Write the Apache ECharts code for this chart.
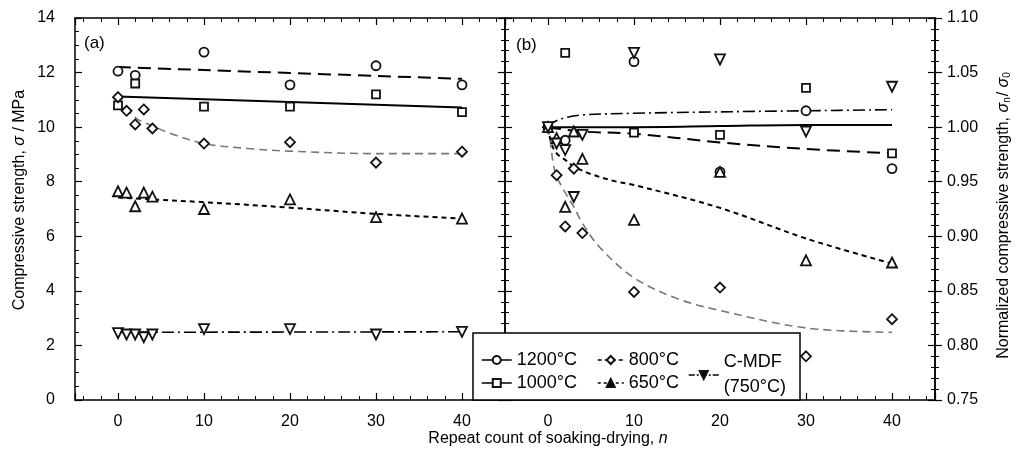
<!DOCTYPE html>
<html>
<head>
<meta charset="utf-8">
<script src="https://cdn.jsdelivr.net/npm/echarts@6/dist/echarts.min.js"></script>
<style>
html, body { margin: 0; padding: 0; background: #fff; }
#chart { width: 1019px; height: 462px; }
</style>
</head>
<body>
<div id="chart"></div>
<script>
// tick labels
var xTicks = [0, 10, 20, 30, 40];

// panel (a): compressive strength, MPa  [n, value]
var a1200 = [[0, 12.05], [2, 11.9], [10, 12.75], [20, 11.55], [30, 12.25], [40, 11.55]];
var a1000 = [[0, 10.8], [2, 11.6], [10, 10.75], [20, 10.75], [30, 11.2], [40, 10.55]];
var a800 = [[0, 11.1], [1, 10.6], [2, 10.1], [3, 10.65], [4, 9.95], [10, 9.4], [20, 9.45], [30, 8.7], [40, 9.1]];
var a650 = [[0, 7.65], [1, 7.6], [2, 7.1], [3, 7.6], [4, 7.45], [10, 7.0], [20, 7.35], [30, 6.7], [40, 6.65]];
var aMdf = [[0, 2.45], [1, 2.4], [2, 2.4], [3, 2.3], [4, 2.4], [10, 2.6], [20, 2.6], [30, 2.4], [40, 2.5]];

// panel (a): fitted curves
var fitA1200 = [[0, 12.2], [40, 11.77]];
var fitA1000 = [[0, 11.12], [40, 10.72]];
var fitA800 = [[0, 11.1], [2, 10.35], [4, 10.05], [6, 9.78], [10, 9.4], [15, 9.22], [20, 9.12], [30, 9.03], [40, 9.03]];
var fitA650 = [[0, 7.42], [4, 7.35], [10, 7.25], [20, 7.05], [30, 6.82], [40, 6.65]];
var fitAMdf = [[0, 2.48], [40, 2.5]];

// panel (b): normalized strength
var b1200 = [[0, 1.0], [2, 0.988], [10, 1.06], [20, 0.959], [30, 1.015], [40, 0.962]];
var b1000 = [[0, 1.0], [2, 1.068], [10, 0.995], [20, 0.993], [30, 1.036], [40, 0.976]];
var b800 = [[0, 1.0], [1, 0.956], [2, 0.909], [3, 0.962], [4, 0.903], [10, 0.849], [20, 0.853], [30, 0.79], [40, 0.824]];
var b650 = [[0, 1.0], [1, 0.99], [2, 0.927], [3, 0.996], [4, 0.971], [10, 0.915], [20, 0.959], [30, 0.878], [40, 0.876]];
var bMdf = [[0, 1.0], [1, 0.985], [2, 0.979], [3, 0.936], [4, 0.993], [10, 1.068], [20, 1.062], [30, 0.996], [40, 1.037]];

// panel (b): fitted curves
var fitBDashDot = [[0, 1.0], [0.5, 1.004], [1.7, 1.008], [3.7, 1.011], [10, 1.0127], [20, 1.014], [30, 1.015], [40, 1.016]];
var fitBSolid = [[0, 1.0], [10, 1.0], [20, 1.001], [30, 1.002], [40, 1.002]];
var fitBLong = [[0, 1.0], [4, 0.996], [10, 0.994], [20, 0.986], [30, 0.98], [40, 0.976]];
var fitB650 = [[0, 1.0], [0.4, 0.985], [1, 0.976], [2, 0.97], [3, 0.964], [5, 0.957], [8, 0.95], [10, 0.947], [20, 0.926], [30, 0.898], [40, 0.875]];
var fitB800 = [[0, 1.0], [0.3, 0.985], [0.6, 0.967], [1, 0.955], [2, 0.94], [3, 0.927], [4, 0.912], [6, 0.89], [10, 0.862], [15, 0.843], [20, 0.832], [30, 0.816], [40, 0.812]];

var FONT = '"Liberation Sans", Arial, sans-serif';

function xAx(grid, pos, labels) {
    return {
        gridIndex: grid, type: 'value', position: pos, min: -5, max: 45, splitNumber: 5,
        axisLine: { onZero: false, lineStyle: { color: '#000', width: 1.5 } },
        axisTick: { inside: true, length: 7, lineStyle: { color: '#000', width: 1.2 } },
        minorTick: { show: true, splitNumber: 5, length: 4, lineStyle: { color: '#000', width: 1 } },
        axisLabel: {
            show: labels, color: '#000', fontSize: 16, margin: 14, fontFamily: FONT,
            formatter: function (v) { return xTicks.indexOf(v) >= 0 ? String(v) : ''; }
        },
        splitLine: { show: false }
    };
}

function yAx(grid, pos, min, max, step, minor, labels, inside) {
    return {
        gridIndex: grid, type: 'value', position: pos, min: min, max: max, interval: step,
        axisLine: { show: true, onZero: false, lineStyle: { color: '#000', width: 1.5 } },
        axisTick: { show: true, inside: inside !== false, length: 7, lineStyle: { color: '#000', width: 1.2 } },
        minorTick: { show: true, splitNumber: minor, length: 4, lineStyle: { color: '#000', width: 1 } },
        axisLabel: {
            show: labels, color: '#000', fontSize: 16, fontFamily: FONT, margin: pos === 'left' ? 20 : 12,
            formatter: function (v) { return step < 1 ? v.toFixed(2) : String(Math.round(v)); }
        },
        splitLine: { show: false }
    };
}

function markers(name, data, xi, yi, symbol, size, rot) {
    return {
        name: name, type: 'line', data: data, xAxisIndex: xi, yAxisIndex: yi,
        symbol: symbol, symbolSize: size, symbolRotate: rot || 0, showSymbol: true,
        lineStyle: { opacity: 0 },
        itemStyle: { color: '#fff', borderColor: '#111', borderWidth: 1.8 },
        z: 3, silent: true
    };
}

function fit(data, xi, yi, type, width, color) {
    return {
        name: 'fit', type: 'line', data: data, xAxisIndex: xi, yAxisIndex: yi,
        showSymbol: false, smooth: 0.35,
        lineStyle: { color: color || '#000', width: width, type: type },
        z: 2, silent: true
    };
}

var DASH_LONG = [13, 7];
var DASH_GRAY = [8, 5];
var DASH_SHORT = [5, 4];
var DASH_DOT = [12, 4, 2, 4];

var legendLine = function (type) {
    return { color: '#000', width: 1.5, opacity: 1, type: type };
};

var chart = echarts.init(document.getElementById('chart'));

var option = {
    animation: false,
    backgroundColor: '#fff',
    grid: [
        { left: 75, top: 18, width: 430, height: 382 },
        { left: 505, top: 18, width: 430, height: 382 }
    ],
    xAxis: [
        xAx(0, 'bottom', true),
        xAx(0, 'top', false),
        xAx(1, 'bottom', true),
        xAx(1, 'top', false)
    ],
    yAxis: [
        yAx(0, 'left', 0, 14, 2, 4, true),
        yAx(0, 'right', 0.75, 1.10, 0.05, 5, false),
        yAx(1, 'left', 0.75, 1.10, 0.05, 5, false),
        yAx(1, 'right', 0.75, 1.10, 0.05, 5, true),
        yAx(1, 'right', 0.75, 1.10, 0.05, 5, false, false)
    ],
    legend: [
        {
            left: 476, top: 346, orient: 'vertical', itemGap: 5, itemWidth: 30, itemHeight: 10, z: 100,
            textStyle: { fontSize: 18, color: '#000', fontFamily: FONT },
            data: [
                { name: '1200°C', lineStyle: legendLine('solid') },
                { name: '1000°C', lineStyle: legendLine('solid') }
            ]
        },
        {
            left: 592, top: 346, orient: 'vertical', itemGap: 5, itemWidth: 26, itemHeight: 10, z: 100,
            textStyle: { fontSize: 18, color: '#000', fontFamily: FONT },
            data: [
                { name: '800°C', lineStyle: legendLine([4, 3]) },
                { name: '650°C', lineStyle: legendLine([3, 3]), itemStyle: { color: '#000' } }
            ]
        },
        {
            left: 683, top: 345, orient: 'vertical', itemWidth: 30, itemHeight: 10, itemGap: 0, z: 100,
            textStyle: { fontSize: 18, color: '#000', fontFamily: FONT, lineHeight: 25 },
            formatter: function (n) { return n === 'C-MDF' ? 'C-MDF\n(750°C)' : n; },
            data: [
                { name: 'C-MDF', lineStyle: legendLine([6, 2, 2, 2]), itemStyle: { color: '#000' } }
            ]
        }
    ],
    graphic: [
        {
            type: 'rect', z: 50,
            shape: { x: 473, y: 333, width: 327, height: 67 },
            style: { fill: '#fff', stroke: '#000', lineWidth: 1.5 }
        },
        {
            type: 'text', x: 84, y: 43, z: 60,
            style: { text: '(a)', font: '17px ' + FONT, fill: '#000', textVerticalAlign: 'middle' }
        },
        {
            type: 'text', x: 516, y: 45, z: 60,
            style: { text: '(b)', font: '17px ' + FONT, fill: '#000', textVerticalAlign: 'middle' }
        },
        {
            type: 'text', x: 548, y: 439, z: 60,
            style: {
                text: '{t|Repeat count of soaking-drying, }{i|n}',
                textAlign: 'center', textVerticalAlign: 'middle',
                rich: {
                    t: { fontSize: 16, fontFamily: FONT, fill: '#000' },
                    i: { fontSize: 16, fontFamily: FONT, fontStyle: 'italic', fill: '#000' }
                }
            }
        },
        {
            type: 'text', x: 20, y: 200, rotation: Math.PI / 2, z: 60,
            style: {
                text: '{t|Compressive strength, }{i|σ}{t| / MPa}',
                textAlign: 'center', textVerticalAlign: 'middle',
                rich: {
                    t: { fontSize: 16, fontFamily: FONT, fill: '#000' },
                    i: { fontSize: 16, fontFamily: FONT, fontStyle: 'italic', fill: '#000' }
                }
            }
        },
        {
            type: 'text', x: 1004, y: 215, rotation: Math.PI / 2, z: 60,
            style: {
                text: '{t|Normalized compressive strength, }{i|σ}{s|n}{t|/ }{i|σ}{s|0}',
                textAlign: 'center', textVerticalAlign: 'middle',
                rich: {
                    t: { fontSize: 16, fontFamily: FONT, fill: '#000' },
                    i: { fontSize: 16, fontFamily: FONT, fontStyle: 'italic', fill: '#000' },
                    s: { fontSize: 10, fontFamily: FONT, fill: '#000', verticalAlign: 'bottom', padding: [6, 1, 0, 0] }
                }
            }
        }
    ],
    series: [
        fit(fitA1200, 0, 0, DASH_LONG, 2),
        fit(fitA1000, 0, 0, 'solid', 2),
        fit(fitA800, 0, 0, DASH_GRAY, 1.6, '#777'),
        fit(fitA650, 0, 0, DASH_SHORT, 2),
        fit(fitAMdf, 0, 0, DASH_DOT, 1.6),
        fit(fitBDashDot, 2, 2, DASH_DOT, 1.6),
        fit(fitBSolid, 2, 2, 'solid', 2),
        fit(fitBLong, 2, 2, DASH_LONG, 2),
        fit(fitB650, 2, 2, DASH_SHORT, 2),
        fit(fitB800, 2, 2, DASH_GRAY, 1.6, '#777'),
        markers('1200°C', a1200, 0, 0, 'circle', 9),
        markers('1000°C', a1000, 0, 0, 'rect', 8),
        markers('800°C', a800, 0, 0, 'diamond', 10),
        markers('650°C', a650, 0, 0, 'triangle', 10),
        markers('C-MDF', aMdf, 0, 0, 'triangle', 10, 180),
        markers('1200°C', b1200, 2, 2, 'circle', 9),
        markers('1000°C', b1000, 2, 2, 'rect', 8),
        markers('800°C', b800, 2, 2, 'diamond', 10),
        markers('650°C', b650, 2, 2, 'triangle', 10),
        markers('C-MDF', bMdf, 2, 2, 'triangle', 10, 180)
    ]
};

chart.setOption(option);
</script>
</body>
</html>
